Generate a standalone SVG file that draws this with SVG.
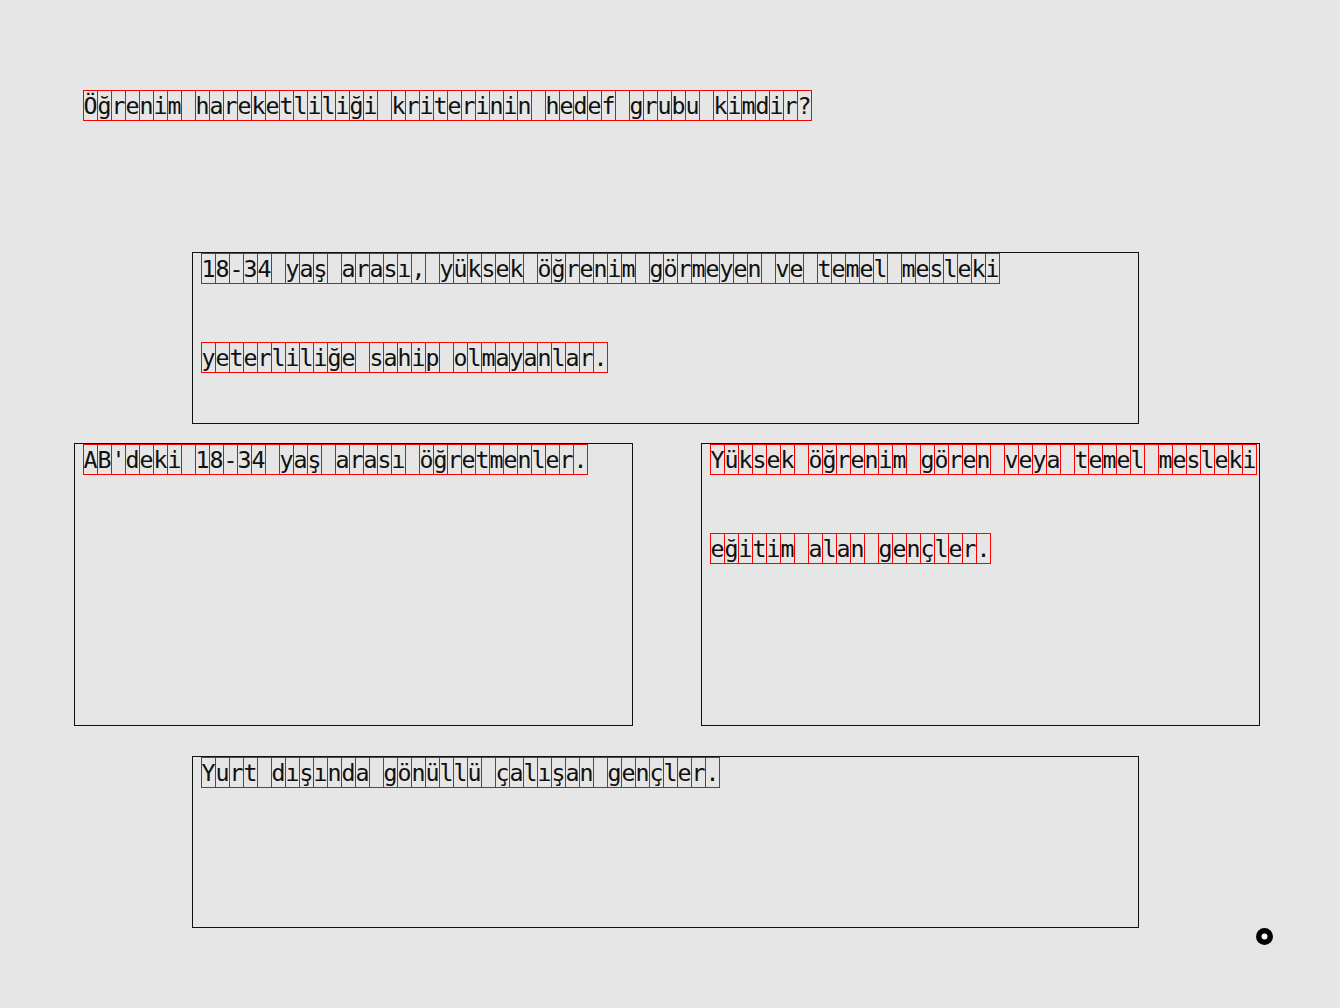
<svg xmlns="http://www.w3.org/2000/svg" width="1340" height="1008" viewBox="0 0 1340 1008">
  <defs>
    <!-- one 14px character cell with its left divider -->
    <pattern id="cells" width="14" height="30" patternUnits="userSpaceOnUse">
      <path d="M0.5 0V30" stroke="#ff0000" stroke-width="1" fill="none"/>
    </pattern>
  </defs>
  <style>
    .cellrow { fill: url(#cells); stroke: #ff0000; stroke-width: 1; }
    .glyphs { font-family: "DejaVu Sans Mono", "Liberation Mono", monospace; font-size: 23.25px; fill: #111111; white-space: pre; }
    .card { fill: none; stroke: #111111; stroke-width: 1; }
  </style>
  <rect x="0" y="0" width="1340" height="1008" fill="#e6e6e6"/>

  <!-- question -->
  <g id="question">
    <g transform="translate(83,90)">
      <rect class="cellrow" x="0.5" y="0.5" width="728" height="30"/>
      <text class="glyphs" x="0.5" y="24" textLength="728" lengthAdjust="spacing">Öğrenim hareketliliği kriterinin hedef grubu kimdir?</text>
    </g>
  </g>

  <!-- answer A -->
  <g id="option-a">
    <rect class="card" x="192.5" y="252.5" width="946" height="171"/>
    <g transform="translate(201,253)">
      <rect class="cellrow" x="0.5" y="0.5" width="798" height="30"/>
      <text class="glyphs" x="0.5" y="24" textLength="798" lengthAdjust="spacing">18-34 yaş arası, yüksek öğrenim görmeyen ve temel mesleki</text>
    </g>
    <g transform="translate(201,342)">
      <rect class="cellrow" x="0.5" y="0.5" width="406" height="30"/>
      <text class="glyphs" x="0.5" y="24" textLength="406" lengthAdjust="spacing">yeterliliğe sahip olmayanlar.</text>
    </g>
  </g>

  <!-- answer B -->
  <g id="option-b">
    <rect class="card" x="74.5" y="443.5" width="558" height="282"/>
    <g transform="translate(83,444)">
      <rect class="cellrow" x="0.5" y="0.5" width="504" height="30"/>
      <text class="glyphs" x="0.5" y="24" textLength="504" lengthAdjust="spacing">AB'deki 18-34 yaş arası öğretmenler.</text>
    </g>
  </g>

  <!-- answer C -->
  <g id="option-c">
    <rect class="card" x="701.5" y="443.5" width="558" height="282"/>
    <g transform="translate(710,444)">
      <rect class="cellrow" x="0.5" y="0.5" width="546" height="30"/>
      <text class="glyphs" x="0.5" y="24" textLength="546" lengthAdjust="spacing">Yüksek öğrenim gören veya temel mesleki</text>
    </g>
    <g transform="translate(710,533)">
      <rect class="cellrow" x="0.5" y="0.5" width="280" height="30"/>
      <text class="glyphs" x="0.5" y="24" textLength="280" lengthAdjust="spacing">eğitim alan gençler.</text>
    </g>
  </g>

  <!-- answer D -->
  <g id="option-d">
    <rect class="card" x="192.5" y="756.5" width="946" height="171"/>
    <g transform="translate(201,757)">
      <rect class="cellrow" x="0.5" y="0.5" width="518" height="30"/>
      <text class="glyphs" x="0.5" y="24" textLength="518" lengthAdjust="spacing">Yurt dışında gönüllü çalışan gençler.</text>
    </g>
  </g>

  <!-- cursor marker -->
  <g id="marker">
    <circle cx="1264.5" cy="936.5" r="5.75" fill="#ffffff" stroke="#000000" stroke-width="5.5"/>
  </g>
</svg>
